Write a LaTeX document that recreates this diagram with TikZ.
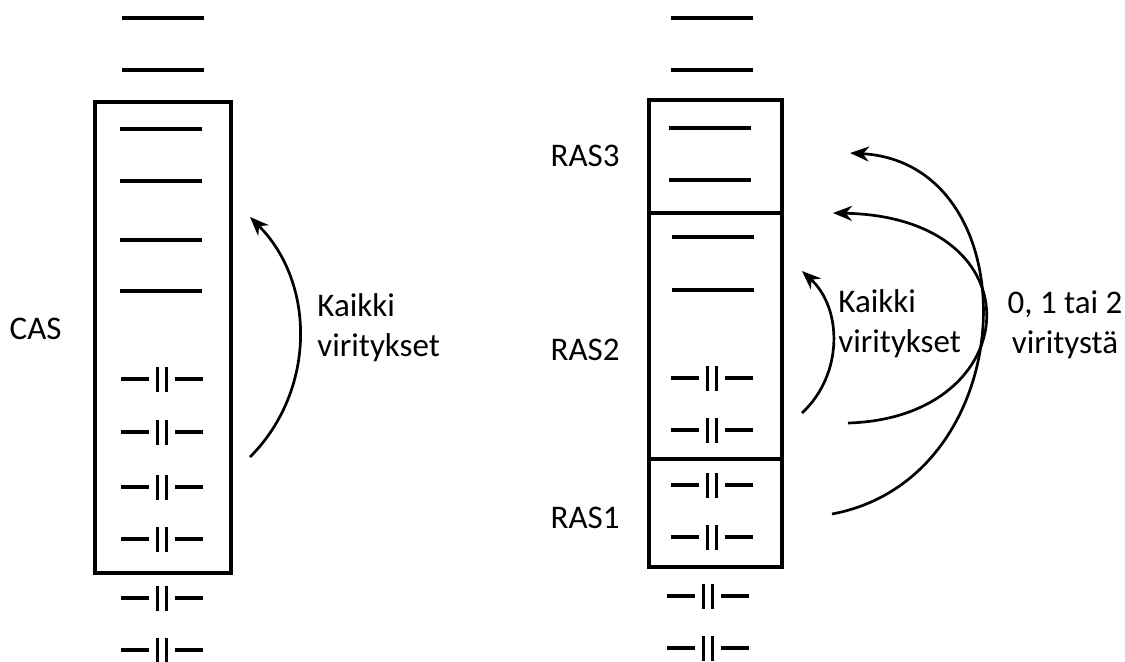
\documentclass[tikz,border=0pt]{standalone}
\usepackage{fontspec}
\setmainfont{Carlito}
\usetikzlibrary{arrows.meta}
\begin{document}
\begin{tikzpicture}[x=0.5pt,y=-0.5pt,
  lvl/.style={line width=1.6pt},
  shell/.style={draw, line width=1.7pt},
  exc/.style={line width=1.35pt, -{Stealth[length=9.5pt,width=7.5pt]}},
  lab/.style={font=\fontsize{16.5pt}{20pt}\selectfont, inner sep=0pt},
  emp/.pic={\draw[lvl] (-41,0)--(41,0);},
  occ/.pic={\draw[lvl] (-41,0)--(-13,0) (13,0)--(41,0);
            \draw[line width=1.9pt] (-4.5,-12)--(-4.5,13) (4.5,-12)--(4.5,13);}
]
\useasboundingbox (0,0) rectangle (1125,661);

% ---------- CAS column ----------
\draw[shell] (95,102) rectangle (231,573);
\foreach \y in {18,70} \pic at (163,\y) {emp};
\foreach \y in {129,181,240,291} \pic at (161,\y) {emp};
\foreach \y in {379,432,487,539,598,650} \pic at (162,\y) {occ};

\node[lab, anchor=base east] (cas) at (62,339) {CAS};
\node[lab, anchor=base west, align=left] (k1) at (317,356) {Kaikki\\viritykset};

\coordinate (cT) at (250,457);
\coordinate (cH) at (250,217);
\draw[exc] (cT) .. controls (316,391) and (316,283) .. (cH);

% ---------- RAS column ----------
\draw[shell] (649,100) rectangle (782,567);
\draw[shell] (649,213) -- (782,213);
\draw[shell] (649,459) -- (782,459);
\foreach \y in {18,70} \pic at (712,\y) {emp};
\foreach \y in {128,180} \pic at (710,\y) {emp};
\foreach \y in {237,290} \pic at (713,\y) {emp};
\foreach \y in {378,430,485,537} \pic at (712,\y) {occ};
\foreach \y in {596,648} \pic at (708,\y) {occ};

\node[lab, anchor=base east] (r3) at (620,166) {RAS3};
\node[lab, anchor=base east] (r2) at (620,360) {RAS2};
\node[lab, anchor=base east] (r1) at (620,528) {RAS1};

\node[lab, anchor=base west, align=left] (k2) at (838,352) {Kaikki\\viritykset};
\node[lab, anchor=base, align=center] (v) at (1065,353) {0, 1 tai 2\\viritystä};

\coordinate (aT) at (802,413);
\coordinate (aH) at (802,271);
\draw[exc] (aT) .. controls (843,375) and (843,309) .. (aH);

\coordinate (bT) at (848,423);
\coordinate (bH) at (833,213);
\draw[exc] (bT) .. controls (1026,418) and (1041,217) .. (bH);

\coordinate (oT) at (832,514);
\coordinate (oH) at (850,153);
\draw[exc] (oT) .. controls (1025,478) and (1032,163) .. (oH);
\end{tikzpicture}
\end{document}
